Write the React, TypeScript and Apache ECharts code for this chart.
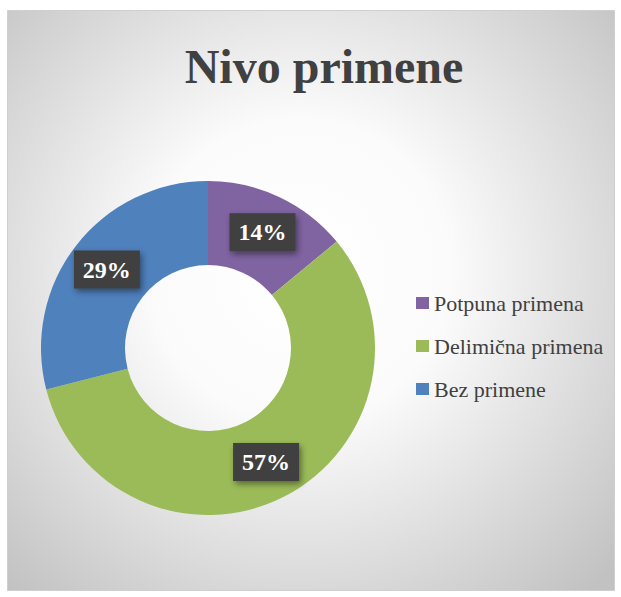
import React, { useEffect, useRef } from "react";
import * as echarts from "echarts";

const titleText = "Nivo primene";
const categories = ["Potpuna primena", "Delimična primena", "Bez primene"];
const values = [14, 57, 29];
const colors = ["#8064A2", "#9BBB59", "#4F81BD"];

const SERIF = "'Liberation Serif', 'Times New Roman', serif";

export default function App() {
  const ref = useRef<HTMLDivElement>(null);

  useEffect(() => {
    if (!ref.current) return;
    const chart = echarts.init(ref.current, undefined, { renderer: "svg" });
    const bg = new echarts.graphic.RadialGradient(
      300,
      270,
      430,
      [
        { offset: 0, color: "#ffffff" },
        { offset: 0.35, color: "#fbfbfb" },
        { offset: 1, color: "#c2c2c2" },
      ],
      true
    );
    chart.setOption({
      animation: false,
      backgroundColor: "#ffffff",
      textStyle: { fontFamily: SERIF },
      graphic: [
        {
          type: "rect",
          z: -10,
          silent: true,
          shape: { x: 7.5, y: 10.5, width: 607, height: 580 },
          style: { fill: bg, stroke: "#cfcfcf", lineWidth: 1 },
        },
      ],
      title: {
        text: titleText,
        left: 319,
        top: 37,
        textAlign: "center",
        textStyle: {
          fontFamily: SERIF,
          fontSize: 48,
          fontWeight: "bold",
          color: "#404040",
        },
      },
      legend: {
        orient: "vertical",
        left: 411,
        top: 287,
        itemWidth: 13,
        itemHeight: 12,
        itemGap: 21,
        icon: "rect",
        data: categories,
        textStyle: {
          fontFamily: SERIF,
          fontSize: 22,
          lineHeight: 22,
          color: "#404040",
        },
      },
      series: [
        {
          type: "pie",
          center: [208, 348],
          radius: [83, 167],
          startAngle: 90,
          clockwise: true,
          avoidLabelOverlap: false,
          labelLine: { show: false },
          label: {
            show: true,
            position: "inside",
            formatter: "{c}%",
            color: "#ffffff",
            fontFamily: SERIF,
            fontSize: 24,
            fontWeight: "bold",
            backgroundColor: "#3f3f3f",
            padding: [7, 9],
            shadowColor: "rgba(0,0,0,0.45)",
            shadowBlur: 6,
            shadowOffsetX: 2,
            shadowOffsetY: 3,
          },
          emphasis: { disabled: true },
          data: categories.map((name, i) => ({
            name,
            value: values[i],
            itemStyle: { color: colors[i] },
          })),
        },
      ],
    });
    return () => chart.dispose();
  }, []);

  return (
    <div
      ref={ref}
      style={{ position: "absolute", left: 0, top: 0, width: 621, height: 597 }}
    />
  );
}
